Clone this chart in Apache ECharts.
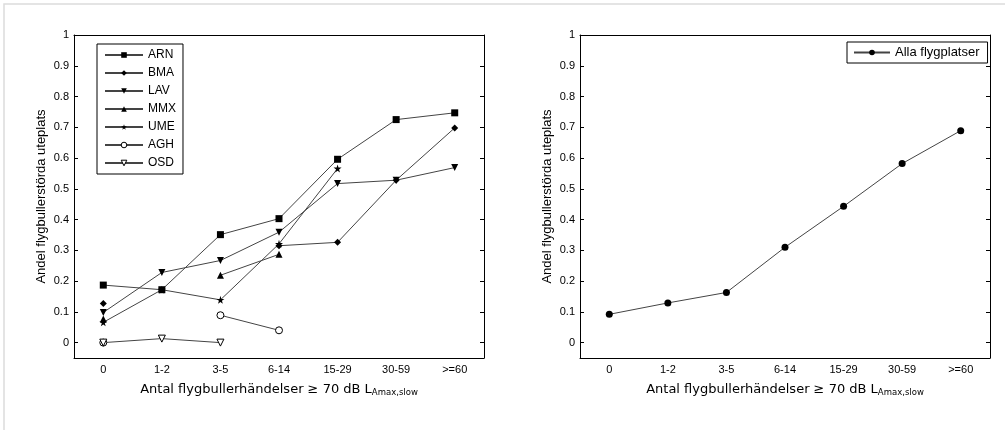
<!DOCTYPE html>
<html>
<head>
<meta charset="utf-8">
<script src="https://cdn.jsdelivr.net/npm/echarts@6/dist/echarts.min.js"></script>
<style>
  html, body { margin: 0; padding: 0; background: #fff; }
  #chart { width: 1005px; height: 430px; }
</style>
</head>
<body>
<div id="chart"></div>
<script>
// kategorier (antal händelser)
const categories = ['0', '1-2', '3-5', '6-14', '15-29', '30-59', '>=60'];
const yTicks = [0, 0.1, 0.2, 0.3, 0.4, 0.5, 0.6, 0.7, 0.8, 0.9, 1];

// vänster diagram, per flygplats
const arn = [0.187, 0.172, 0.351, 0.403, 0.596, 0.725, 0.747];
const bma = [0.127, null, null, 0.315, 0.326, 0.528, 0.698];
const lav = [0.098, 0.228, 0.267, 0.359, 0.517, 0.528, 0.569];
const mmx = [0.077, null, 0.219, 0.287, null, null, null];
const ume = [0.066, 0.172, 0.139, 0.321, 0.566, null, null];
const agh = [0.0, null, 0.089, 0.040, null, null, null];
const osd = [0.0, 0.013, 0.0, null, null, null, null];

// höger diagram
const alla = [0.092, 0.129, 0.163, 0.310, 0.443, 0.582, 0.689];

const FONT = 'Liberation Sans';
const LINE = '#444';
const STAR = 'path://M50,0 L61,35 L98,35 L68,57 L79,91 L50,70 L21,91 L32,57 L2,35 L39,35 Z';
const DOWN = 'path://M0,0 L100,0 L50,87 Z';

const xName = '{a|Antal flygbullerhändelser ≥ 70 dB L}{s|Amax,slow}';
const yName = 'Andel flygbullerstörda uteplats';

function xAxes(gridIndex) {
  return [
    {
      gridIndex: gridIndex,
      type: 'category',
      data: categories,
      boundaryGap: true,
      axisLine: { onZero: false, lineStyle: { color: '#000', width: 1 } },
      axisTick: { alignWithLabel: true, inside: true, length: 4, lineStyle: { color: '#000' } },
      axisLabel: { color: '#000', fontSize: 11, fontFamily: FONT, margin: 6 },
      name: xName,
      nameLocation: 'middle',
      nameGap: 24,
      nameTextStyle: {
        rich: {
          a: { fontSize: 13, fontFamily: 'DejaVu Sans', color: '#000' },
          s: { fontSize: 8.5, fontFamily: 'DejaVu Sans', color: '#000', padding: [6, 0, 0, 0] }
        }
      }
    },
    {
      gridIndex: gridIndex,
      type: 'category',
      data: categories,
      position: 'top',
      boundaryGap: true,
      axisLine: { onZero: false, lineStyle: { color: '#000', width: 1 } },
      axisTick: { alignWithLabel: true, inside: true, length: 4, lineStyle: { color: '#000' } },
      axisLabel: { show: false }
    }
  ];
}

function yAxes(gridIndex) {
  return [
    {
      gridIndex: gridIndex,
      type: 'value',
      min: -0.05,
      max: 1,
      splitLine: { show: false },
      axisLine: { show: true, onZero: false, lineStyle: { color: '#000', width: 1 } },
      axisTick: { show: true, inside: true, length: 4, customValues: yTicks, lineStyle: { color: '#000' } },
      axisLabel: {
        color: '#000', fontSize: 11, fontFamily: FONT, margin: 5,
        customValues: yTicks,
        formatter: v => String(Math.round(v * 10) / 10)
      },
      name: yName,
      nameLocation: 'middle',
      nameRotate: 90,
      nameGap: 26,
      nameTextStyle: { fontSize: 13, fontFamily: FONT, color: '#000' }
    },
    {
      gridIndex: gridIndex,
      type: 'value',
      position: 'right',
      min: -0.05,
      max: 1,
      splitLine: { show: false },
      axisLine: { show: true, onZero: false, lineStyle: { color: '#000', width: 1 } },
      axisTick: { show: true, inside: true, length: 4, customValues: yTicks, lineStyle: { color: '#000' } },
      axisLabel: { show: false }
    }
  ];
}

function line(name, data, symbol, size, opts) {
  return Object.assign({
    name: name,
    type: 'line',
    xAxisIndex: 0,
    yAxisIndex: 0,
    data: data,
    symbol: symbol,
    symbolSize: size,
    showAllSymbol: true,
    connectNulls: false,
    lineStyle: { color: LINE, width: 1 },
    itemStyle: { color: '#000', borderWidth: 0 },
    emphasis: { disabled: true },
    animation: false
  }, opts || {});
}

const chart = echarts.init(document.getElementById('chart'));

const option = {
  animation: false,
  graphic: [{
    type: 'rect',
    shape: { x: 4, y: 4, width: 1100, height: 500 },
    style: { fill: 'none', stroke: '#dcdcdc', lineWidth: 1.5 },
    silent: true
  }],
  grid: [
    { left: 74, right: 521, top: 35, bottom: 72 },
    { left: 580, right: 15, top: 35, bottom: 72 }
  ],
  xAxis: [].concat(xAxes(0), xAxes(1)),
  yAxis: [].concat(yAxes(0), yAxes(1)),
  legend: [
    {
      data: ['ARN', 'BMA', 'LAV', 'MMX', 'UME', 'AGH', 'OSD'],
      orient: 'vertical',
      left: 97,
      top: 44,
      itemWidth: 38,
      itemHeight: 7,
      itemGap: 6,
      padding: [5, 7, 5, 7],
      borderColor: '#000',
      borderWidth: 1,
      backgroundColor: '#fff',
      itemStyle: { borderWidth: 1 },
      textStyle: { color: '#000', fontSize: 12, fontFamily: FONT, lineHeight: 12 },
      selectedMode: false
    },
    {
      data: ['Alla flygplatser'],
      orient: 'vertical',
      left: 847,
      top: 42,
      itemWidth: 36,
      itemHeight: 7,
      padding: [4, 8, 4, 6],
      borderColor: '#000',
      borderWidth: 1,
      backgroundColor: '#fff',
      textStyle: { color: '#000', fontSize: 13, fontFamily: FONT, lineHeight: 13 },
      selectedMode: false
    }
  ],
  series: [
    line('ARN', arn, 'rect', 7),
    line('BMA', bma, 'diamond', 7),
    line('LAV', lav, DOWN, 7),
    line('MMX', mmx, 'triangle', 7),
    line('UME', ume, STAR, 8),
    line('AGH', agh, 'circle', 7, { itemStyle: { color: '#fff', borderColor: '#000', borderWidth: 1 } }),
    line('OSD', osd, DOWN, 7, { itemStyle: { color: '#fff', borderColor: '#000', borderWidth: 1 } }),
    line('Alla flygplatser', alla, 'circle', 7, { xAxisIndex: 2, yAxisIndex: 2 })
  ]
};

chart.setOption(option);
</script>
</body>
</html>
